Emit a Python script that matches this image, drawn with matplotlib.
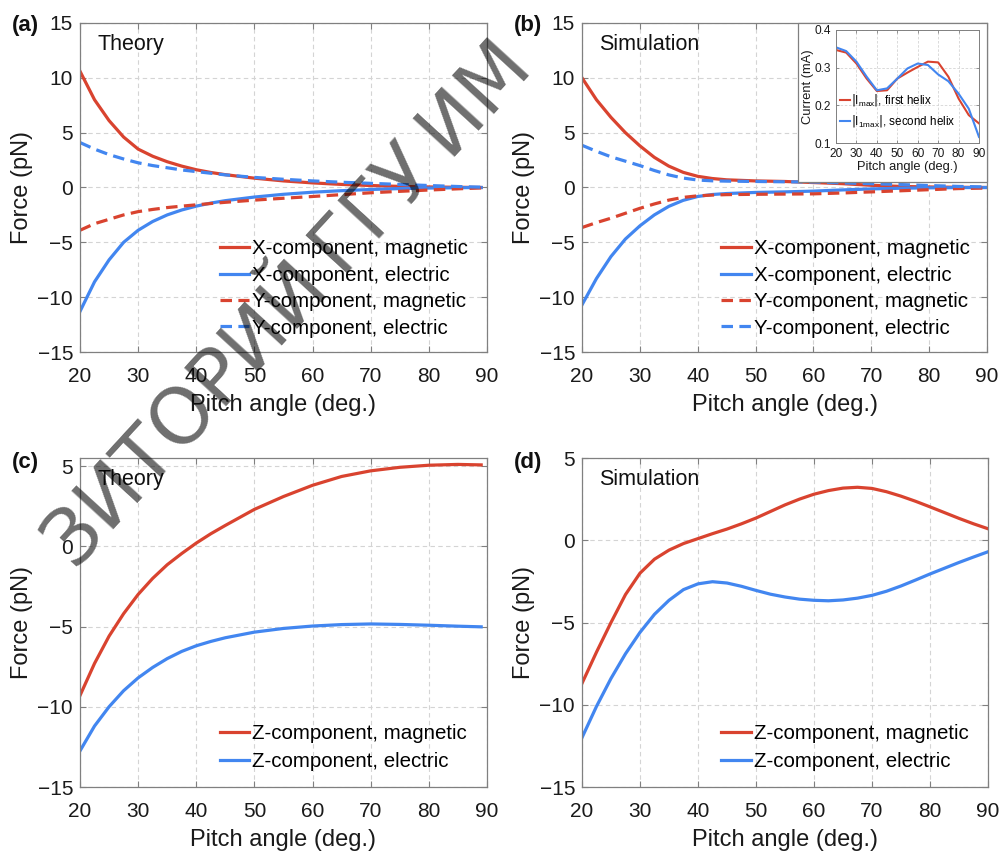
import matplotlib
matplotlib.use("Agg")
import matplotlib.pyplot as plt
from matplotlib.patches import Rectangle

plt.rcParams['font.family'] = ['Liberation Sans', 'DejaVu Sans']

RED = '#D9432F'
BLUE = '#4286F0'
GRID = '#d4d4d4'
SPINE = '#808080'

# ---------------- data ----------------
# (a) theory, X/Y components
theory_x = [20, 22.5, 25, 27.5, 30, 32.5, 35, 37.5, 40, 42.5, 45, 50, 55, 60, 65, 70, 75, 80, 85, 89]
a_xmag = [10.6, 8.0, 6.1, 4.6, 3.5, 2.85, 2.35, 1.95, 1.62, 1.37, 1.17, 0.85, 0.6, 0.42, 0.28, 0.18, 0.1, 0.05, 0.02, 0.0]
a_xel = [-11.3, -8.6, -6.6, -5.0, -3.9, -3.1, -2.5, -2.05, -1.7, -1.42, -1.2, -0.87, -0.62, -0.43, -0.29, -0.18, -0.1, -0.05, -0.02, 0.0]
a_ymag = [-3.9, -3.3, -2.9, -2.5, -2.2, -2.0, -1.83, -1.7, -1.58, -1.46, -1.35, -1.15, -0.98, -0.82, -0.65, -0.48, -0.35, -0.23, -0.12, -0.04]
a_yel = [4.1, 3.5, 3.0, 2.6, 2.25, 2.0, 1.8, 1.6, 1.45, 1.3, 1.15, 0.92, 0.75, 0.6, 0.48, 0.38, 0.28, 0.18, 0.09, 0.03]

# (b) simulation, X/Y components
sim_x = [20, 22.5, 25, 27.5, 30, 32.5, 35, 37.5, 40, 42.5, 45, 50, 55, 60, 65, 70, 75, 80, 85, 90]
b_xmag = [10.0, 8.0, 6.4, 5.0, 3.8, 2.75, 1.95, 1.38, 1.02, 0.82, 0.7, 0.6, 0.55, 0.45, 0.35, 0.2, 0.1, 0.05, 0.02, 0.0]
b_xel = [-10.7, -8.3, -6.3, -4.7, -3.5, -2.5, -1.72, -1.17, -0.82, -0.64, -0.55, -0.45, -0.4, -0.33, -0.22, -0.13, -0.07, -0.03, -0.01, 0.0]
b_ymag = [-3.65, -3.2, -2.8, -2.35, -1.9, -1.5, -1.15, -0.9, -0.76, -0.69, -0.65, -0.62, -0.6, -0.58, -0.5, -0.4, -0.3, -0.2, -0.1, -0.05]
b_yel = [3.85, 3.3, 2.8, 2.4, 2.0, 1.55, 1.15, 0.86, 0.68, 0.61, 0.58, 0.55, 0.52, 0.5, 0.42, 0.35, 0.27, 0.18, 0.1, 0.05]

# (c) theory, Z component
c_zmag = [-9.3, -7.3, -5.6, -4.2, -3.0, -2.0, -1.15, -0.45, 0.2, 0.78, 1.3, 2.3, 3.1, 3.8, 4.35, 4.7, 4.92, 5.05, 5.1, 5.07]
c_zel = [-12.75, -11.2, -10.0, -9.0, -8.2, -7.55, -7.0, -6.55, -6.2, -5.93, -5.7, -5.35, -5.12, -4.97, -4.88, -4.84, -4.87, -4.92, -4.98, -5.02]

# (d) simulation, Z component
d_x = [20, 22.5, 25, 27.5, 30, 32.5, 35, 37.5, 40, 42.5, 45, 47.5, 50, 52.5, 55, 57.5,
       60, 62.5, 65, 67.5, 70, 72.5, 75, 77.5, 80, 82.5, 85, 87.5, 90]
d_zmag = [-8.7, -6.8, -5.0, -3.3, -2.0, -1.15, -0.6, -0.2, 0.1, 0.4, 0.68, 1.0, 1.35, 1.75, 2.15, 2.5,
          2.8, 3.02, 3.17, 3.22, 3.15, 2.95, 2.68, 2.37, 2.03, 1.68, 1.33, 1.0, 0.7]
d_zel = [-12.0, -10.1, -8.4, -6.9, -5.6, -4.5, -3.65, -3.0, -2.65, -2.52, -2.6, -2.8, -3.05, -3.28, -3.45, -3.58,
         -3.65, -3.68, -3.63, -3.52, -3.35, -3.1, -2.78, -2.42, -2.05, -1.7, -1.35, -1.02, -0.7]

# inset: current
inset_x = [20, 25, 30, 35, 40, 45, 50, 55, 60, 65, 70, 75, 80, 85, 90]
i_first = [0.347, 0.340, 0.311, 0.271, 0.238, 0.240, 0.271, 0.287, 0.302, 0.316, 0.314, 0.276, 0.218, 0.174, 0.152]
i_second = [0.354, 0.344, 0.316, 0.276, 0.240, 0.245, 0.271, 0.298, 0.311, 0.307, 0.282, 0.264, 0.231, 0.191, 0.116]

x_ticks = [20, 30, 40, 50, 60, 70, 80, 90]
y_ticks_xy = [-15, -10, -5, 0, 5, 10, 15]
y_ticks_z = [-15, -10, -5, 0, 5]

xy_labels = ['X-component, magnetic', 'X-component, electric',
             'Y-component, magnetic', 'Y-component, electric']
z_labels = ['Z-component, magnetic', 'Z-component, electric']
inset_labels = [r'$|\mathregular{I_{max}}|$, first helix', r'$|\mathregular{I_{1max}}|$, second helix']
watermark = 'ЗИТОРИЙ ГГУ ИМ'

# ---------------- figure ----------------
W, H = 1002, 855
fig = plt.figure(figsize=(W / 100, H / 100), dpi=100)


def px_axes(l, t, r, b):
    return fig.add_axes([l / W, 1 - b / H, (r - l) / W, (b - t) / H])


def style(ax, yticks, ylim, fs=15):
    ax.set_xlim(20, 90)
    ax.set_ylim(*ylim)
    ax.set_xticks(x_ticks)
    ax.set_yticks(yticks)
    ax.grid(True, color=GRID, lw=0.8, ls=(0, (4, 3)))
    ax.set_axisbelow(True)
    for s in ax.spines.values():
        s.set_color(SPINE)
        s.set_linewidth(0.9)
    ax.tick_params(direction='in', length=4, width=0.8, color=SPINE,
                   labelsize=fs, labelcolor='#1a1a1a', top=True, right=True)
    ax.tick_params(axis='x', pad=11)
    ax.tick_params(axis='y', pad=5)
    ax.set_xlabel('Pitch angle (deg.)', fontsize=17, color='#1a1a1a')
    ax.set_ylabel('Force (pN)', fontsize=17, color='#1a1a1a')


LW = 2.3
DASH = (0, (3.6, 2.0))
LEG = dict(frameon=False, fontsize=14.8, handlelength=1.45, handletextpad=0.15,
           borderpad=0, borderaxespad=0)

axes = {}
axes['a'] = px_axes(80, 23, 487, 352)
axes['b'] = px_axes(582, 23, 987, 352)
axes['c'] = px_axes(80, 458, 487, 787)
axes['d'] = px_axes(582, 458, 988, 787)

for key, xs, data in [('a', theory_x, (a_xmag, a_xel, a_ymag, a_yel)),
                      ('b', sim_x, (b_xmag, b_xel, b_ymag, b_yel))]:
    ax = axes[key]
    style(ax, y_ticks_xy, (-15, 15))
    ax.plot(xs, data[0], color=RED, lw=LW, label=xy_labels[0])
    ax.plot(xs, data[1], color=BLUE, lw=LW, label=xy_labels[1])
    ax.plot(xs, data[2], color=RED, lw=LW, ls=DASH, label=xy_labels[2])
    ax.plot(xs, data[3], color=BLUE, lw=LW, ls=DASH, label=xy_labels[3])
    ax.legend(loc='upper left', bbox_to_anchor=(0.343, 0.342), labelspacing=0.36, **LEG)

for key, xs, m, e in [('c', theory_x, c_zmag, c_zel), ('d', d_x, d_zmag, d_zel)]:
    ax = axes[key]
    style(ax, y_ticks_z, (-15, 5.5) if key == 'c' else (-15, 5))
    ax.plot(xs, m, color=RED, lw=LW, label=z_labels[0])
    ax.plot(xs, e, color=BLUE, lw=LW, label=z_labels[1])
    ax.legend(loc='upper left', bbox_to_anchor=(0.343, 0.192), labelspacing=0.45, **LEG)

for key in 'abcd':
    ax = axes[key]
    ax.yaxis.label.set_va('center')
    ax.xaxis.label.set_va('center')
    ax.yaxis.set_label_coords(-0.142, 0.5)
    ax.xaxis.set_label_coords(0.5, -0.161)
    txt = 'Theory' if key in 'ac' else 'Simulation'
    ax.text(0.043, 0.935, txt, transform=ax.transAxes, fontsize=15.5,
            ha='left', va='center', color='#111111')

# panel labels
for lab, x, y in [('(a)', 12, 25), ('(b)', 514, 25), ('(c)', 12, 462), ('(d)', 514, 462)]:
    fig.text(x / W, 1 - y / H, lab, fontsize=16, fontweight='bold',
             ha='left', va='center', color='#111111')

# inset
box = Rectangle((798 / W, 1 - 182 / H), 189 / W, 159 / H, transform=fig.transFigure,
                facecolor='white', edgecolor=SPINE, lw=0.9, zorder=5)
fig.patches.append(box)
ins = px_axes(836, 30, 979, 143)
ins.set_zorder(6)
ins.plot(inset_x, i_first, color=RED, lw=1.5, label=inset_labels[0])
ins.plot(inset_x, i_second, color=BLUE, lw=1.5, label=inset_labels[1])
ins.set_xlim(20, 90)
ins.set_ylim(0.1, 0.4)
ins.set_xticks(x_ticks)
ins.set_yticks([0.1, 0.2, 0.3, 0.4])
ins.grid(True, color=GRID, lw=0.6, ls=(0, (3, 2)))
for s in ins.spines.values():
    s.set_color(SPINE)
    s.set_linewidth(0.7)
ins.tick_params(direction='in', length=2, width=0.6, color=SPINE, labelsize=8.6,
                labelcolor='#1a1a1a', pad=3.5, top=True, right=True)
ins.set_xlabel('Pitch angle (deg.)', fontsize=9.3, color='#1a1a1a', labelpad=0.5)
ins.set_ylabel('Current (mA)', fontsize=9.3, color='#1a1a1a', labelpad=0.5)
ins.legend(loc='upper left', bbox_to_anchor=(0.03, 0.45), frameon=False, fontsize=8.4,
           handlelength=0.8, handletextpad=0.15, labelspacing=0.45,
           borderpad=0, borderaxespad=0)

# watermark
fig.text(290 / W, 1 - 306 / H, watermark, family=['IBM Plex Sans Condensed', 'DejaVu Sans'],
         fontweight=500, rotation=47.5, rotation_mode='anchor', ha='center', va='center',
         fontsize=56, color='black', alpha=0.57, zorder=20)

fig.savefig('out.png', dpi=100)
